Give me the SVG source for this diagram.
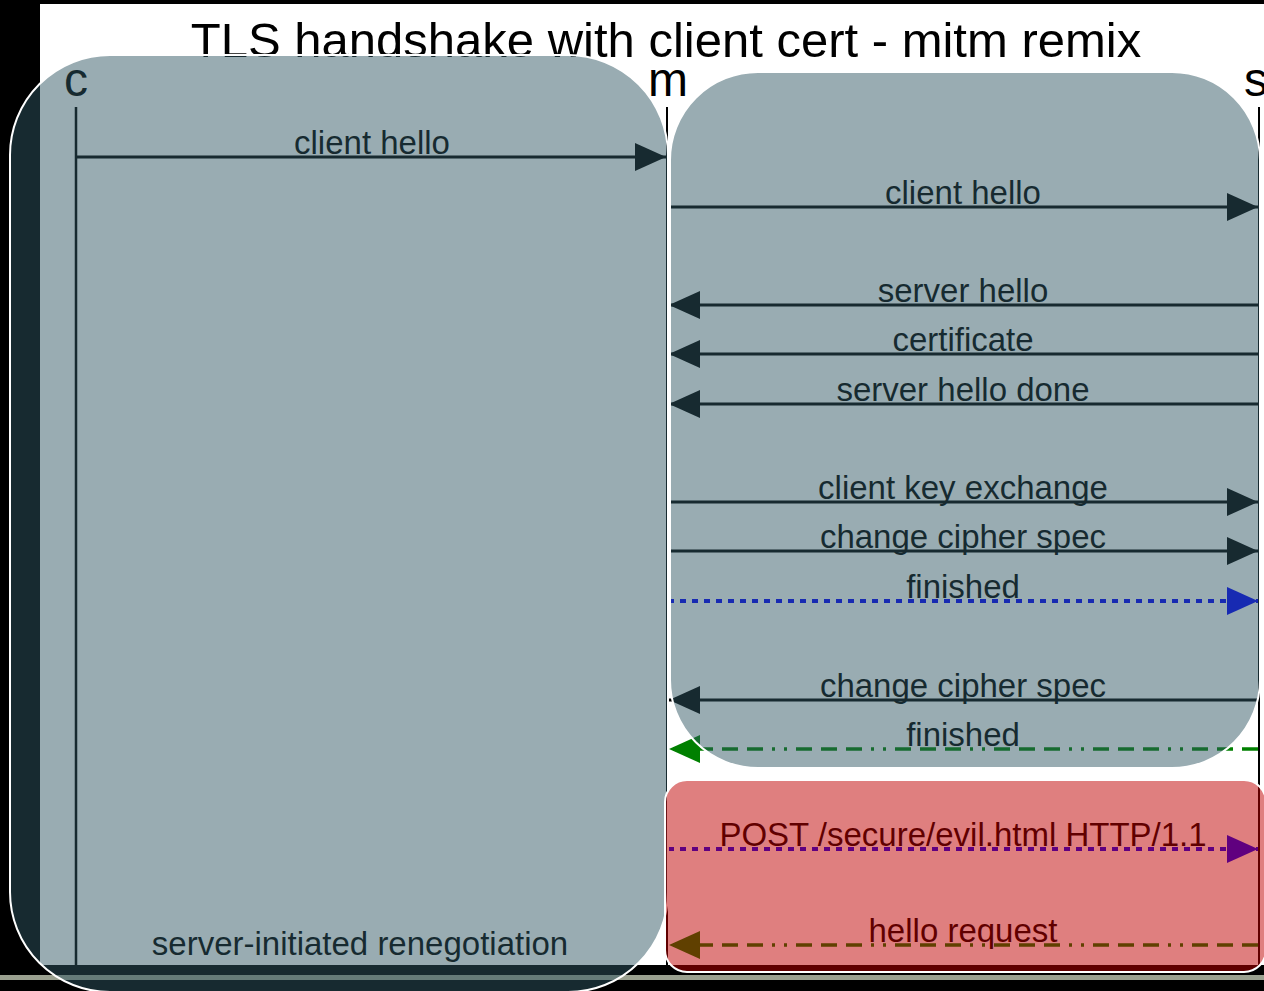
<svg xmlns="http://www.w3.org/2000/svg" width="1264" height="991" viewBox="0 0 1264 991">
  <defs>
    <style>
      .title{font-family:"Liberation Sans",Arial,sans-serif;font-size:49px;text-anchor:middle;fill:#000}
      .part{font-family:"Liberation Sans",Arial,sans-serif;font-size:48px;text-anchor:middle;fill:#000}
      .lbl{font-family:"Liberation Sans",Arial,sans-serif;font-size:33px;text-anchor:middle;fill:#000}
      .life{stroke:#000;stroke-width:2.5}
      .msg{stroke:#000;stroke-width:3;fill:none}
      .dot{stroke:#0000ff;stroke-width:4;stroke-dasharray:6 6;fill:none}
      .dashdot{stroke:#008000;stroke-width:3.5;stroke-dasharray:16 9 16 9 16 9 3 9 3 9;fill:none}
      .hl{fill:#2f5662;fill-opacity:0.49;stroke:#fff;stroke-width:2}
      .alert{fill:#c00000;fill-opacity:0.5;stroke:#fff;stroke-width:2}
    </style>
    <marker id="headK" markerUnits="userSpaceOnUse" markerWidth="32" markerHeight="30" viewBox="0 0 32 30" refX="31" refY="15" orient="auto">
      <path d="M0,1 L31,15 L0,29 z" fill="#000"/>
    </marker>
    <marker id="headB" markerUnits="userSpaceOnUse" markerWidth="32" markerHeight="30" viewBox="0 0 32 30" refX="31" refY="15" orient="auto">
      <path d="M0,1 L31,15 L0,29 z" fill="#0000ff"/>
    </marker>
    <marker id="headG" markerUnits="userSpaceOnUse" markerWidth="32" markerHeight="30" viewBox="0 0 32 30" refX="31" refY="15" orient="auto">
      <path d="M0,1 L31,15 L0,29 z" fill="#008000"/>
    </marker>
  </defs>

  <!-- backdrop and sheet -->
  <rect x="0" y="0" width="1264" height="991" fill="#000"/>
  <rect x="40" y="4" width="1224" height="961" fill="#fff"/>
  <rect x="0" y="975" width="1264" height="5" fill="#9aa08f"/>

  <text class="title" x="666" y="57">TLS handshake with client cert - mitm remix</text>

  <!-- participants -->
  <g id="participant-c">
    <text class="part" x="76" y="96">c</text>
    <line class="life" x1="76" y1="107" x2="76" y2="965"/>
  </g>
  <g id="participant-m">
    <text class="part" x="668" y="96">m</text>
    <line class="life" x1="667" y1="107" x2="667" y2="965" style="stroke-width:2"/>
  </g>
  <g id="participant-s">
    <text class="part" x="1256" y="96">s</text>
    <line class="life" x1="1259" y1="107" x2="1259" y2="965" style="stroke-width:2"/>
  </g>

  <!-- messages -->
  <g id="connectors">
    <line class="msg" x1="77" y1="157" x2="666" y2="157" marker-end="url(#headK)"/>
    <line class="msg" x1="668" y1="207" x2="1258" y2="207" marker-end="url(#headK)"/>
    <line class="msg" x1="1258" y1="305" x2="669" y2="305" marker-end="url(#headK)"/>
    <line class="msg" x1="1258" y1="354" x2="669" y2="354" marker-end="url(#headK)"/>
    <line class="msg" x1="1258" y1="404" x2="669" y2="404" marker-end="url(#headK)"/>
    <line class="msg" x1="668" y1="502" x2="1258" y2="502" marker-end="url(#headK)"/>
    <line class="msg" x1="668" y1="551" x2="1258" y2="551" marker-end="url(#headK)"/>
    <line class="dot" x1="668" y1="601" x2="1258" y2="601" marker-end="url(#headB)"/>
    <line class="msg" x1="1258" y1="700" x2="669" y2="700" marker-end="url(#headK)"/>
    <line class="dashdot" x1="1258" y1="749" x2="669" y2="749" marker-end="url(#headG)"/>
    <line class="dot" x1="668" y1="849" x2="1258" y2="849" marker-end="url(#headB)"/>
    <line class="dashdot" x1="1258" y1="945" x2="669" y2="945" marker-end="url(#headG)"/>
  </g>

  <!-- message labels -->
  <g id="labels">
    <text class="lbl" x="372" y="154">client hello</text>
    <text class="lbl" x="963" y="204">client hello</text>
    <text class="lbl" x="963" y="302">server hello</text>
    <text class="lbl" x="963" y="351">certificate</text>
    <text class="lbl" x="963" y="401">server hello done</text>
    <text class="lbl" x="963" y="499">client key exchange</text>
    <text class="lbl" x="963" y="548">change cipher spec</text>
    <text class="lbl" x="963" y="598">finished</text>
    <text class="lbl" x="963" y="697">change cipher spec</text>
    <text class="lbl" x="963" y="746">finished</text>
    <text class="lbl" x="963" y="846">POST /secure/evil.html HTTP/1.1</text>
    <text class="lbl" x="963" y="942">hello request</text>
    <text class="lbl" x="360" y="955">server-initiated renegotiation</text>
  </g>

  <!-- highlighted regions -->
  <g id="region-client-side">
    <rect class="hl" x="10" y="55" width="658" height="937" rx="100" ry="100"/>
  </g>
  <g id="region-server-handshake">
    <rect class="hl" x="670" y="72" width="590" height="696" rx="88" ry="88"/>
  </g>
  <g id="region-injected">
    <rect class="alert" x="665" y="780" width="601" height="192" rx="22" ry="22"/>
  </g>
</svg>
